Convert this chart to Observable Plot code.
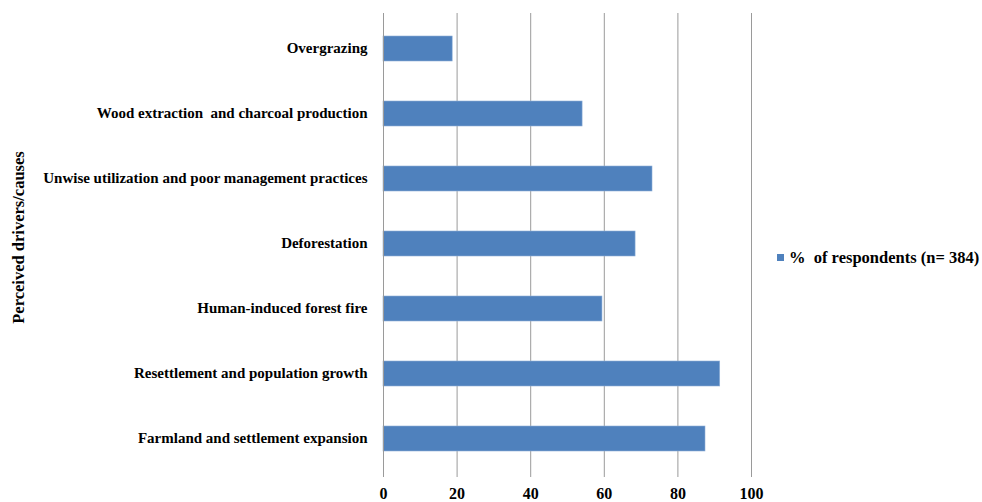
<!DOCTYPE html>
<html>
<head>
<meta charset="utf-8">
<script src="https://cdn.jsdelivr.net/npm/d3@7"></script>
<script src="https://cdn.jsdelivr.net/npm/@observablehq/plot@0.6"></script>
<style>
  html, body { margin: 0; padding: 0; background: #fff; }
  #wrap { position: relative; width: 982px; height: 502px; font-family: "Liberation Serif", "Times New Roman", serif; }
  #legend { position: absolute; left: 777px; top: 248px; font-size: 16.5px; line-height: 20px; font-weight: bold; color: #000; white-space: nowrap; }
  #legend span.sw { display: inline-block; width: 7px; height: 7px; background: #4F81BD; margin-right: 5px; vertical-align: 2px; }
</style>
</head>
<body>
<div id="wrap">
  <div id="chart"></div>
  <div id="legend"><span class="sw"></span>%&nbsp; of respondents (n= 384)</div>
</div>
<script>
const categories = [
  "Overgrazing",
  "Wood extraction  and charcoal production",
  "Unwise utilization and poor management practices",
  "Deforestation",
  "Human-induced forest fire",
  "Resettlement and population growth",
  "Farmland and settlement expansion"
];
const values = [18.8, 54.1, 73.1, 68.5, 59.5, 91.5, 87.5];
const xTicks = [0, 20, 40, 60, 80, 100];
const yTitle = "Perceived drivers/causes";

const data = categories.map((c, i) => ({category: c, value: values[i]}));

const chart = Plot.plot({
  width: 982,
  height: 502,
  marginLeft: 383,
  marginRight: 231,
  marginTop: 13,
  marginBottom: 29,
  style: {fontFamily: "'Liberation Serif', 'Times New Roman', serif", fontSize: "15px", fontWeight: "bold", color: "#000", background: "#fff", overflow: "visible"},
  x: {domain: [0, 100], ticks: xTicks},
  y: {domain: categories, padding: 0},
  marks: [
    Plot.gridX(xTicks, {stroke: "#9a9a9a", strokeOpacity: 1, strokeWidth: 1}),
    Plot.barX(data, {x: "value", y: "category", fill: "#4F81BD", stroke: "#8fb0d8", strokeWidth: 0.6, insetTop: 20, insetBottom: 20}),
    Plot.ruleX([0], {stroke: "#9a9a9a", strokeWidth: 1}),
    Plot.ruleY([0], {frameAnchor: "bottom", stroke: "#9a9a9a", strokeWidth: 1}),
    Plot.axisX(xTicks, {anchor: "bottom", tickSize: 4, tickPadding: 10, stroke: "#9a9a9a", fontWeight: "bold", fontSize: 16, label: null}),
    Plot.axisY({anchor: "left", tickSize: 0, tickPadding: 16, fontWeight: "bold", fontSize: 15, label: null, dy: -1}),
    Plot.text([yTitle], {frameAnchor: "left", dx: -365, dy: -6, rotate: -90, fontSize: 16.5, fontWeight: "bold", textAnchor: "middle", fill: "#000"})
  ]
});
document.getElementById("chart").appendChild(chart);
</script>
</body>
</html>
